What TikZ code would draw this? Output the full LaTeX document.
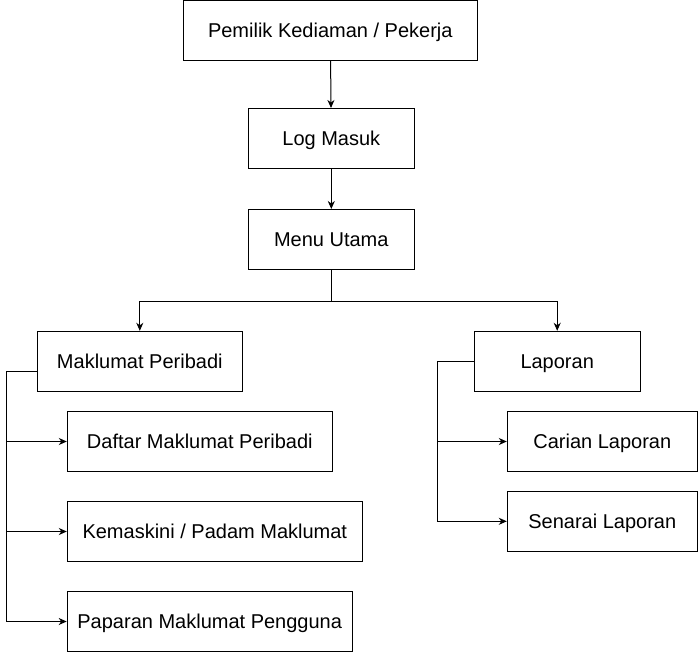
\documentclass[tikz,border=0pt]{standalone}
\usepackage{fontspec}
\setmainfont{Liberation Sans}
\usetikzlibrary{arrows.meta}

\tikzset{
  menubox/.style={draw,line width=1pt,minimum height=60pt,inner sep=0pt,text height=14.3pt,text depth=0pt,font=\fontsize{20}{24}\selectfont},
  link/.style={line width=1pt,-{Stealth[length=8pt,width=7pt,inset=2.5pt]}}
}

\begin{document}
\begin{tikzpicture}[x=1pt,y=-1pt]
\useasboundingbox (0,0) rectangle (698,652);
\node[menubox,minimum width=294pt] (owner) at (330.3,30.5) {Pemilik Kediaman / Pekerja};
\node[menubox,minimum width=166pt] (login) at (331.3,138.5) {Log Masuk};
\node[menubox,minimum width=166pt] (menu) at (331.3,239.5) {Menu Utama};
\node[menubox,minimum width=205pt] (info) at (139.8,361.3) {Maklumat Peribadi};
\node[menubox,minimum width=166pt] (report) at (557.2,361.3) {Laporan};
\node[menubox,minimum width=265pt] (register) at (199.8,441.5) {Daftar Maklumat Peribadi};
\node[menubox,minimum width=295pt] (update) at (214.8,531.5) {Kemaskini / Padam Maklumat};
\node[menubox,minimum width=285pt] (display) at (209.7,621.5) {Paparan Maklumat Pengguna};
\node[menubox,minimum width=190pt] (search) at (602.3,441.5) {Carian Laporan};
\node[menubox,minimum width=190pt] (list) at (602.3,521.3) {Senarai Laporan};
\coordinate (split) at (331.3,301.3);

\draw[link] (owner) -- (login);
\draw[link] (login) -- (menu);
\draw[line width=1pt] (menu) -- (split);
\draw[link] (split) -| (info);
\draw[link] (split) -| (report);
\foreach \child in {register,update,display}
  \draw[link] ([yshift=-10.3pt]info.west) -- ++(-30,0) |- (\child);
\foreach \child in {search,list}
  \draw[link] (report.west) -- ++(-36.7,0) |- (\child);
\end{tikzpicture}
\end{document}
